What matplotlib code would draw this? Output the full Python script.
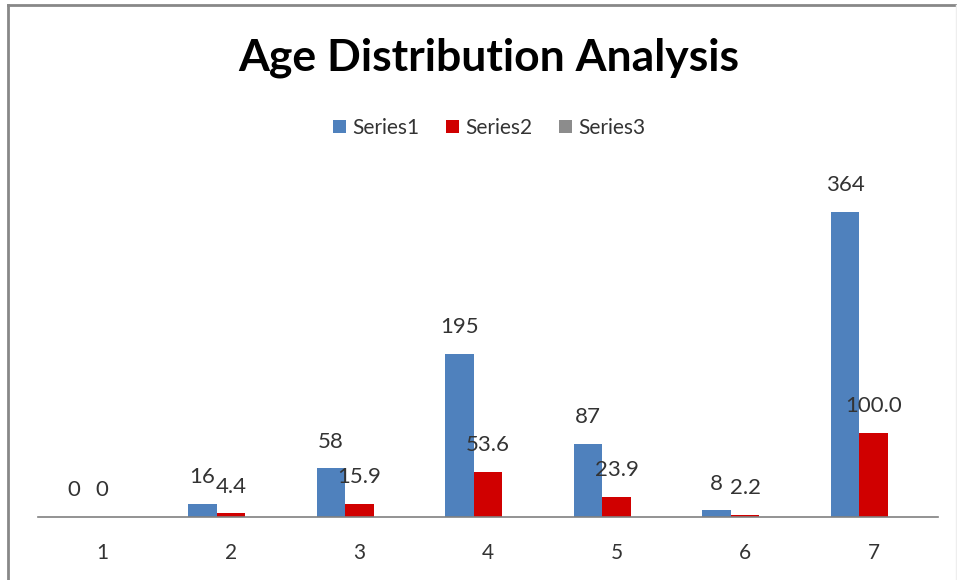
import matplotlib.pyplot as plt
from matplotlib.lines import Line2D
import numpy as np

categories = ['1', '2', '3', '4', '5', '6', '7']
series1 = [0, 16, 58, 195, 87, 8, 364]
series2 = [0.0, 4.4, 15.9, 53.6, 23.9, 2.2, 100.0]
series3 = [0, 0, 0, 0, 0, 0, 0]
series_names = ['Series1', 'Series2', 'Series3']
colors = ['#4F81BD', '#D00000', '#8C8C8C']

plt.rcParams['font.family'] = ['Lato', 'DejaVu Sans']

W, H = 957, 580
fig = plt.figure(figsize=(W / 100, H / 100), dpi=100)

# plot area (pixel based, like the excel chart)
left, right, bottom, top = 38, 938, 517, 182
ax = fig.add_axes([left / W, 1 - bottom / H, (right - left) / W, (bottom - top) / H])

x = np.arange(1, len(categories) + 1)
w = 0.222
b1 = ax.bar(x - w, series1, w, color=colors[0], label=series_names[0])
b2 = ax.bar(x, series2, w, color=colors[1], label=series_names[1])
b3 = ax.bar(x + w, series3, w, color=colors[2], label=series_names[2])

for xi, v in zip(x - w, series1):
    ax.text(xi, v + 20, '%d' % v, ha='center', va='bottom', fontsize=16, color='#333333')
for xi, v in zip(x, series2):
    ax.text(xi, v + 20, '%.1f' % v if v > 0 else '0', ha='center', va='bottom', fontsize=16, color='#333333')

ax.set_xlim(0.5, 7.5)
ax.set_ylim(0, 400)
ax.set_xticks(x)
ax.set_xticklabels(categories, fontsize=15, color='#333333')
ax.tick_params(axis='x', length=0, pad=19)
ax.set_yticks([])
for s in ['top', 'right', 'left']:
    ax.spines[s].set_visible(False)
ax.spines['bottom'].set_color('#808080')
ax.spines['bottom'].set_linewidth(1.2)

fig.text(0.511, 1 - 58 / H, 'Age Distribution Analysis', ha='center', va='center',
         fontsize=32, fontweight='bold', color='black')

fig.legend(handles=[b1, b2, b3], labels=series_names, loc='center',
           bbox_to_anchor=(0.511, 1 - 128 / H), ncol=3, frameon=False,
           fontsize=15, handlelength=0.6, handleheight=0.6, handletextpad=0.3,
           columnspacing=1.3, labelcolor='#333333')

# chart frame
fig.add_artist(Line2D([8 / W, 956 / W], [1 - 5 / H, 1 - 5 / H], color='#888888', lw=2))
fig.add_artist(Line2D([8 / W, 8 / W], [0, 1 - 5 / H], color='#888888', lw=2))
fig.add_artist(Line2D([956 / W, 956 / W], [0, 1 - 5 / H], color='#eeeeee', lw=1))

fig.savefig('out.png', dpi=100, facecolor='white')
